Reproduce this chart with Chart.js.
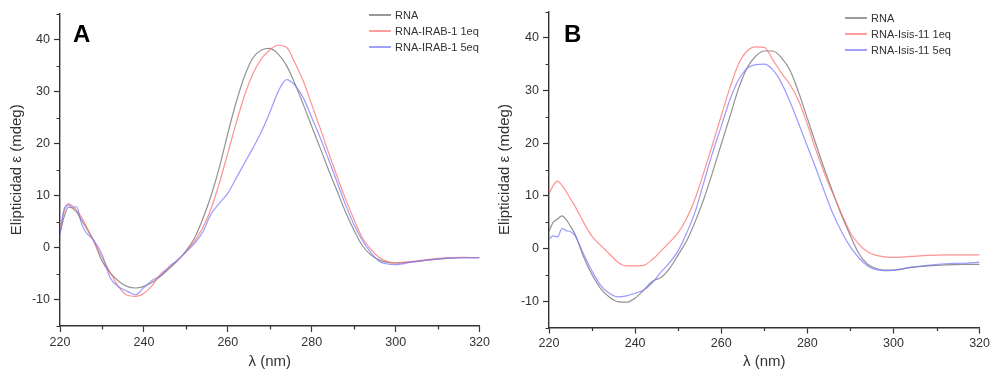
<!DOCTYPE html>
<html lang="es">
<head>
  <meta charset="UTF-8" />
  <title>CD — RNA</title>
  <script src="https://cdnjs.cloudflare.com/ajax/libs/Chart.js/4.4.1/chart.umd.js"></script>
  <style>
    body {
      margin: 0;
      width: 993px;
      height: 371px;
      background: #fff;
      font-family: 'Liberation Sans', Arial, sans-serif;
      position: relative;
      overflow: hidden;
    }
    canvas { position: absolute; top: 0; }
    #cA { left: 0; }
    #cB { left: 493px; }
    .tag {
      position: absolute;
      font: bold 24px 'Liberation Sans', Arial, sans-serif;
      color: #000;
      line-height: 1;
    }
    .legend {
      position: absolute;
      font: 11px 'Liberation Sans', Arial, sans-serif;
      color: #333;
      z-index: 2;
    }
    .legend div {
      display: flex;
      align-items: center;
      height: 16px;
    }
    .legend span.ln {
      display: inline-block;
      width: 22px;
      height: 1.5px;
      margin-right: 4px;
    }
  </style>
</head>
<body>
  <canvas id="cA" width="493" height="371"></canvas>
  <canvas id="cB" width="500" height="371"></canvas>
  <div class="tag" style="left:73px; top:22px;">A</div>
  <div class="tag" style="left:564px; top:22px;">B</div>
  <div class="legend" id="legA" style="left:369px; top:7px;"></div>
  <div class="legend" id="legB" style="left:845px; top:10px;"></div>

  <script>
    const wavelength = [220, 221, 222, 223, 224, 225, 226, 228, 230, 232, 234, 236, 238, 240,
      242, 244, 246, 248, 250, 252, 254, 256, 258, 260, 262, 264, 266, 268, 270, 272, 274,
      276, 278, 280, 282, 284, 286, 288, 290, 292, 294, 296, 298, 300, 304, 308, 312, 316, 320];

    // panel A
    const rnaA = [2.8, 6, 7.8, 7.6, 6.8, 5.5, 4.2, 1.4, -2.5, -4.8, -6.4, -7.4, -7.7, -7.4,
      -6.6, -5.4, -4, -2.5, -0.6, 1.8, 5.5, 10, 15.5, 22, 28, 33, 36.5, 38, 38.3, 37.2, 35,
      31.5, 27.5, 23.3, 19.2, 15, 11, 7, 3.5, 0.5, -1.3, -2.3, -2.8, -2.9, -2.7, -2.3, -2.0, -1.9, -1.9];
    const irab1eq = [3.5, 7, 8.5, 8, 7.2, 6, 4.6, 1.3, -1.8, -4.8, -7.5, -9.1, -9.3, -8.7,
      -7.2, -5.0, -3.8, -2.3, -0.8, 1.2, 3.8, 7.5, 12.5, 18.2, 24, 29.3, 33.5, 36.3, 38, 38.9, 38.5,
      35.5, 32, 27.5, 23, 18.3, 13.8, 9.5, 5.6, 2, -0.2, -1.8, -2.6, -2.9, -2.6, -2.2, -1.9, -1.8, -1.9];
    const irab5eq = [2.5, 7.5, 8.2, 7.8, 7.9, 5, 3.2, 1.5, -1.2, -5.8, -7.5, -8.3, -9, -7.6,
      -6.2, -5.3, -3.6, -2.4, -0.8, 0.8, 3, 6.5, 8.6, 10.5, 13.4, 16.3, 19.2, 22.3, 26, 30, 32.3,
      31.2, 28.8, 25, 21.2, 17, 12.7, 8.4, 4.6, 1.5, -0.8, -2.5, -3.1, -3.2, -2.7, -2.3, -2.0, -1.9, -1.9];

    // panel B
    const rnaB = [3.3, 5, 5.6, 6.2, 5.5, 4.2, 2.8, -1.5, -5, -7.6, -9.2, -10.1, -10.2, -9.4,
      -7.9, -6.2, -5.5, -3.8, -1.2, 1.5, 5.2, 9.5, 14.5, 19.8, 25, 30.3, 34.3, 36.5, 37.5, 37.5, 36.2,
      33.8, 29.6, 24.7, 19.8, 15, 10.5, 6.2, 2.4, -1, -3, -3.8, -4.1, -4.1, -3.6, -3.3, -3.1, -3, -3];
    const isis1eq = [10.3, 12, 12.8, 12, 10.8, 9.4, 8.1, 5, 2.3, 0.6, -1, -2.6, -3.3, -3.3,
      -3.2, -2.1, -0.5, 1.2, 3, 5.8, 9.6, 14.6, 19.8, 25.2, 30.5, 35, 37.5, 38.3, 38.2, 35.8, 33.3,
      31.1, 28, 23.6, 18.7, 14.2, 10.3, 6.5, 3, 0.8, -0.6, -1.3, -1.6, -1.7, -1.5, -1.3, -1.2, -1.2, -1.2];
    const isis5eq = [1.8, 2.4, 2.2, 3.8, 3.4, 3.2, 2.5, -1, -4.3, -7, -8.5, -9.2, -9, -8.5,
      -7.9, -6.5, -4.5, -2.7, -0.4, 3, 7.1, 12.7, 18.2, 23.2, 28.2, 32, 34.2, 34.9, 35, 33.9, 31.4,
      27.8, 23.7, 19.4, 15.2, 10.7, 6.5, 3.1, 0.3, -1.8, -3.3, -4, -4.2, -4.1, -3.6, -3.2, -2.9, -2.8, -2.6];

    const xTicks = [220, 240, 260, 280, 300, 320];
    const xMinor = [230, 250, 270, 290, 310];
    const yTicks = [-10, 0, 10, 20, 30, 40];
    const yMinor = [-15, -5, 5, 15, 25, 35, 45];

    const labelsA = ['RNA', 'RNA-IRAB-1 1eq', 'RNA-IRAB-1 5eq'];
    const labelsB = ['RNA', 'RNA-Isis-11 1eq', 'RNA-Isis-11 5eq'];
    const colors = ['rgba(110,110,110,0.75)', 'rgba(255,110,110,0.75)', 'rgba(120,120,255,0.75)'];
    const legendColors = ['#9a9a9a', '#ff9c9c', '#a0a0ff'];

    const axisColor = '#333';
    const fam = "'Liberation Sans', Arial, sans-serif";

    const minorTicks = {
      id: 'minorTicks',
      afterDraw(chart) {
        const ctx = chart.ctx;
        const xs = chart.scales.x, ys = chart.scales.y;
        ctx.save();
        ctx.strokeStyle = axisColor;
        ctx.lineWidth = 1.2;
        ctx.beginPath();
        xMinor.forEach(v => {
          const px = Math.round(xs.getPixelForValue(v)) + 0.5;
          ctx.moveTo(px, ys.bottom);
          ctx.lineTo(px, ys.bottom + 3.5);
        });
        yMinor.forEach(v => {
          const py = Math.round(ys.getPixelForValue(v)) + 0.5;
          ctx.moveTo(xs.left, py);
          ctx.lineTo(xs.left - 3.5, py);
        });
        ctx.stroke();
        ctx.restore();
      }
    };

    function series(values) {
      return wavelength.map((w, i) => ({ x: w, y: values[i] }));
    }

    function makePanel(id, seriesList, labels, cfg) {
      new Chart(document.getElementById(id), {
        type: 'line',
        data: {
          datasets: seriesList.map((vals, i) => ({
            label: labels[i],
            data: series(vals),
            borderColor: colors[i],
            borderWidth: 1.2,
            pointRadius: 0,
            fill: false,
            tension: 0.4,
            cubicInterpolationMode: 'monotone',
          })).reverse()
        },
        options: {
          responsive: false,
          animation: false,
          layout: { padding: { top: cfg.top, right: cfg.right, bottom: 0, left: 0 } },
          plugins: { legend: { display: false }, tooltip: { enabled: false } },
          scales: {
            x: {
              type: 'linear',
              min: 220,
              max: 320,
              afterFit: s => { s.height = cfg.xh; },
              afterBuildTicks: s => { s.ticks = xTicks.map(v => ({ value: v })); },
              ticks: { autoSkip: false, maxRotation: 0, padding: 3, color: '#333',
                font: { size: 12.5, family: fam } },
              grid: { drawOnChartArea: false, tickLength: 6, tickColor: axisColor, tickWidth: 1.2 },
              border: { display: true, color: axisColor, width: 1.4 },
              title: { display: true, text: 'λ (nm)', color: '#333', padding: { top: 0, bottom: 0 },
                font: { size: 15, family: fam } },
            },
            y: {
              min: -15,
              max: 45,
              afterFit: s => { s.width = cfg.yw; },
              afterBuildTicks: s => { s.ticks = yTicks.map(v => ({ value: v })); },
              ticks: { autoSkip: false, padding: 4, color: '#333',
                font: { size: 12.5, family: fam } },
              grid: { drawOnChartArea: false, tickLength: 6, tickColor: axisColor, tickWidth: 1.2 },
              border: { display: true, color: axisColor, width: 1.4 },
              title: { display: true, text: 'Elipticidad ε (mdeg)', color: '#333',
                padding: { top: cfg.tp, bottom: 0 },
                font: { size: 15, family: fam } },
            }
          }
        },
        plugins: [minorTicks]
      });
    }

    function makeLegend(id, labels) {
      const el = document.getElementById(id);
      labels.forEach((t, i) => {
        const row = document.createElement('div');
        const ln = document.createElement('span');
        ln.className = 'ln';
        ln.style.backgroundColor = legendColors[i];
        row.appendChild(ln);
        row.appendChild(document.createTextNode(t));
        el.appendChild(row);
      });
    }

    makePanel('cA', [rnaA, irab1eq, irab5eq], labelsA, { top: 13.5, right: 9, xh: 45, yw: 60, tp: 8 });
    makePanel('cB', [rnaB, isis1eq, isis5eq], labelsB, { top: 9.5, right: 13, xh: 43.5, yw: 56, tp: 3 });
    makeLegend('legA', labelsA);
    makeLegend('legB', labelsB);
  </script>
</body>
</html>
